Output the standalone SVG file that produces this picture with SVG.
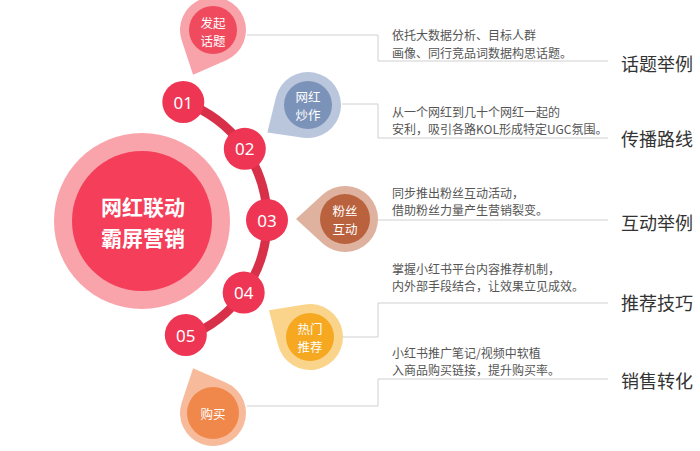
<svg xmlns="http://www.w3.org/2000/svg" xmlns:xlink="http://www.w3.org/1999/xlink" width="700" height="451" viewBox="0 0 700 451">
<style>
.cn{font-family:"Noto Sans CJK SC","Noto Sans",sans-serif}
.dt{font-size:12.5px;fill:#fff;text-anchor:middle;dominant-baseline:central}
.num{font-family:"Noto Sans","Liberation Sans",sans-serif;font-size:17px;fill:#fff;text-anchor:middle;dominant-baseline:central}
.desc{font-size:12px;fill:#555;dominant-baseline:central}
.title{font-size:18px;fill:#333;dominant-baseline:central}
.conn{fill:none;stroke:#d0d0d0;stroke-width:1}
.nc{fill:#ee3553}
</style>
<defs>
<path id="drop" d="M49,0 L22.2,24.4 A33,33 0 1 1 22.2,-24.4 Z"/>
</defs>
<rect width="700" height="451" fill="#fff"/>
<g id="connectors">
<path class="conn" d="M247,35 H378 V61 H608"/>
<path class="conn" d="M342,104 H378 V138 H608"/>
<path class="conn" d="M378,220 H608"/>
<path class="conn" d="M343,337 H378 V303 H608"/>
<path class="conn" d="M247,406 H378 V379 H608"/>
<path d="M183.3,102 A125,125 0 0 1 185.8,337.1" fill="none" stroke="#d9304a" stroke-width="9"/>
</g>
<g id="center">
<circle cx="142" cy="221" r="88" fill="#f9a3aa"/>
<circle cx="142" cy="221" r="70" fill="#f43e5a"/>
<text class="cn" x="143" y="207" font-size="21" font-weight="bold" fill="#fff" text-anchor="middle" dominant-baseline="central"><tspan x="143" y="206">网红联动</tspan><tspan x="143" y="237">霸屏营销</tspan></text>
</g>
<g id="n01"><circle class="nc" cx="183.3" cy="102" r="21"/><text class="num" x="183.3" y="102">01</text></g>
<g id="n02"><circle class="nc" cx="244.8" cy="148.8" r="21"/><text class="num" x="244.8" y="148.8">02</text></g>
<g id="n03"><circle class="nc" cx="267" cy="220" r="21"/><text class="num" x="267" y="220">03</text></g>
<g id="n04"><circle class="nc" cx="243.7" cy="292.6" r="21"/><text class="num" x="243.7" y="292.6">04</text></g>
<g id="n05"><circle class="nc" cx="185.8" cy="335" r="21"/><text class="num" x="185.8" y="335">05</text></g>
<g id="drop1">
<use xlink:href="#drop" href="#drop" transform="translate(213,30) rotate(114)" fill="#f8a2aa"/>
<circle cx="213" cy="30" r="24" fill="#f04a5e"/>
<text class="cn dt"><tspan x="213" y="22">发起</tspan><tspan x="213" y="40">话题</tspan></text>
</g>
<g id="drop2">
<use xlink:href="#drop" href="#drop" transform="translate(308,105) rotate(146)" fill="#b9c6dc"/>
<circle cx="308" cy="105" r="24" fill="#7c93b9"/>
<text class="cn dt"><tspan x="308" y="96">网红</tspan><tspan x="308" y="114">炒作</tspan></text>
</g>
<g id="drop3">
<use xlink:href="#drop" href="#drop" transform="translate(345,219) rotate(180)" fill="#deb29e"/>
<circle cx="345" cy="219" r="25" fill="#b9623d"/>
<text class="cn dt"><tspan x="345" y="210">粉丝</tspan><tspan x="345" y="228">互动</tspan></text>
</g>
<g id="drop4">
<use xlink:href="#drop" href="#drop" transform="translate(310,337) rotate(213)" fill="#fbd48c"/>
<circle cx="310" cy="337" r="24" fill="#f5a820"/>
<text class="cn dt"><tspan x="310" y="328">热门</tspan><tspan x="310" y="346">推荐</tspan></text>
</g>
<g id="drop5">
<use xlink:href="#drop" href="#drop" transform="translate(213,413) rotate(246)" fill="#f7bb9c"/>
<circle cx="213" cy="413" r="26" fill="#f0884b"/>
<text class="cn dt" x="213" y="413">购买</text>
</g>
<g id="item1">
<text class="cn desc"><tspan x="392" y="34">依托大数据分析、目标人群</tspan><tspan x="392" y="52">画像、同行竞品词数据构思话题。</tspan></text>
<text class="cn title" x="621" y="63">话题举例</text>
</g>
<g id="item2">
<text class="cn desc"><tspan x="392" y="111">从一个网红到几十个网红一起的</tspan><tspan x="392" y="128">安利，吸引各路KOL形成特定UGC氛围。</tspan></text>
<text class="cn title" x="621" y="138">传播路线</text>
</g>
<g id="item3">
<text class="cn desc"><tspan x="392" y="192">同步推出粉丝互动活动，</tspan><tspan x="392" y="209">借助粉丝力量产生营销裂变。</tspan></text>
<text class="cn title" x="621" y="222">互动举例</text>
</g>
<g id="item4">
<text class="cn desc"><tspan x="392" y="268">掌握小红书平台内容推荐机制，</tspan><tspan x="392" y="285">内外部手段结合，让效果立见成效。</tspan></text>
<text class="cn title" x="621" y="302">推荐技巧</text>
</g>
<g id="item5">
<text class="cn desc"><tspan x="392" y="352">小红书推广笔记/视频中软植</tspan><tspan x="392" y="369">入商品购买链接，提升购买率。</tspan></text>
<text class="cn title" x="621" y="380">销售转化</text>
</g>
</svg>
